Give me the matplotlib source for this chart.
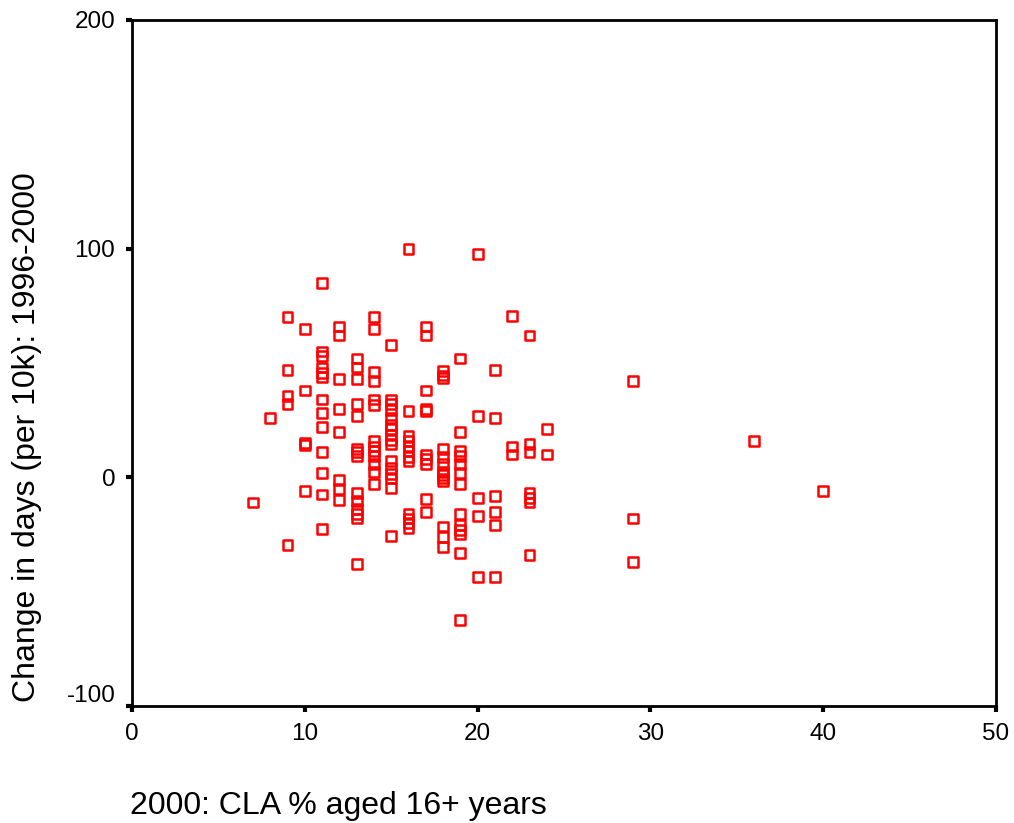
import matplotlib
matplotlib.use("Agg")
import matplotlib.pyplot as plt
import matplotlib.transforms as mtransforms
import numpy as np

plt.rcParams['font.family'] = ['Liberation Sans', 'DejaVu Sans']

# CLA % aged 16+ years (x) and change in days per 10k (y), grouped by x value
x_values = [7, 8, 9, 10, 11, 12, 13, 14, 15, 16, 17, 18, 19, 20, 21, 22, 23, 24, 29, 36, 40]
y_groups = [
    [-11],
    [26],
    [70, 47, 35.5, 32, -29.5],
    [65, 38, 15, 14, -6],
    [85, 55, 53, 48, 45.5, 44, 34, 28, 22, 11, 2, -7.5, -22.5],
    [66, 62, 43, 30, 20, -1, -5, -10],
    [52, 48, 43, 32, 27, 12.5, 11, 9.5, -7, -10.5, -14, -16, -18, -38],
    [70, 65, 46, 42, 34, 31.5, 16, 13.5, 11.5, 9.5, 6, 2.5, -3],
    [58, 34, 32, 29.5, 26, 23, 21, 18.5, 16.5, 14.5, 7, 4, 1.5, -0.5, -4.5, -25.5],
    [100, 29, 18, 16, 13.5, 11.5, 9, 7, -16, -18, -20, -22],
    [66, 62, 38, 30, 29, 10, 8, 6, -9.5, -15],
    [46.5, 44.5, 43.5, 12.5, 9, 6, 2.5, 1, -0.5, -1.5, -21.5, -26, -30.5],
    [52, 20, 11.5, 9.5, 6, 2, -3, -16, -21, -23, -25, -33, -62.5],
    [97.5, 27, -9, -17, -43.5],
    [47, 26, -8, -15, -21, -43.5],
    [70.5, 13.5, 10],
    [62, 14.5, 11, -7, -9, -11, -34],
    [21, 10],
    [42, -18, -37],
    [16],
    [-6],
]

x_ticks = [0, 10, 20, 30, 40, 50]
y_ticks = [-100, 0, 100, 200]
x_label = "2000: CLA % aged 16+ years"
y_label = "Change in days (per 10k): 1996-2000"

xs = [xv for xv, ys in zip(x_values, y_groups) for _ in ys]
ys = [yv for ys_ in y_groups for yv in ys_]

fig = plt.figure(figsize=(10.14, 8.23), dpi=100)
ax = fig.add_axes([132/1014, 1-706/823, (996-132)/1014, (706-20)/823])

ax.scatter(xs, ys, marker='s', s=50, facecolors='none', edgecolors='#ff0000', linewidths=1.8, zorder=3)

ax.set_xlim(0, 50)
ax.set_ylim(-100, 200)
ax.set_xticks(x_ticks)
ax.set_yticks(y_ticks)
ax.set_xticklabels([str(t) for t in x_ticks])
ax.set_yticklabels([str(t) for t in y_ticks])
for s in ax.spines.values():
    s.set_linewidth(2)
    s.set_color('black')
ax.tick_params(axis='both', direction='out', length=4, width=3, labelsize=17.5, colors='black')
ax.tick_params(axis='y', pad=8)
ax.tick_params(axis='x', pad=8)

# the lowest y label sits slightly above its tick in the reference
lbl = ax.get_yticklabels()[0]
lbl.set_transform(lbl.get_transform() + mtransforms.ScaledTranslation(0, 12/100, fig.dpi_scale_trans))

fig.text(130/1014, 1-806/823, x_label, ha='left', va='center', fontsize=23)
fig.text(27/1014, 1-437/823, y_label, ha='center', va='center', rotation=90, fontsize=23)

fig.savefig("out.png", dpi=100)
